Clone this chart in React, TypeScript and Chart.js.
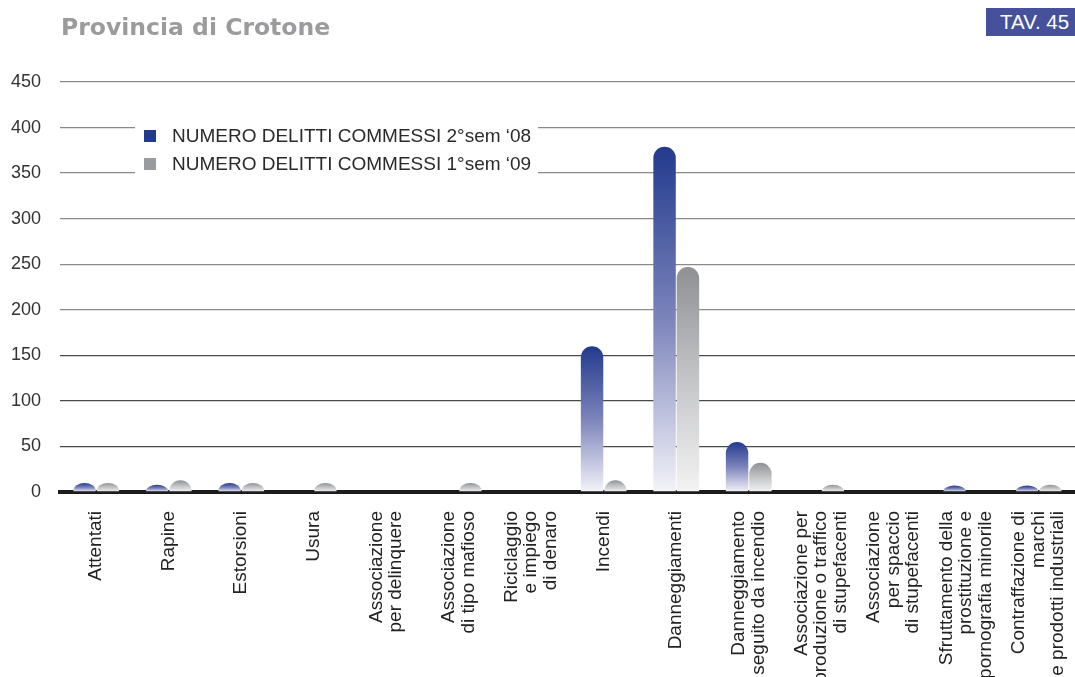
import React, { useEffect, useRef } from 'react';
import { Chart, registerables } from 'chart.js';

Chart.register(...registerables);

const categories: string[][] = [
  ['Attentati'],
  ['Rapine'],
  ['Estorsioni'],
  ['Usura'],
  ['Associazione', 'per delinquere'],
  ['Associazione', 'di tipo mafioso'],
  ['Riciclaggio', 'e impiego', 'di denaro'],
  ['Incendi'],
  ['Danneggiamenti'],
  ['Danneggiamento', 'seguito da incendio'],
  ['Associazione per', 'produzione o traffico', 'di stupefacenti'],
  ['Associazione', 'per spaccio', 'di stupefacenti'],
  ['Sfruttamento della', 'prostituzione e', 'pornografia minorile'],
  ['Contraffazione di', 'marchi', 'e prodotti industriali'],
];

const seriesLabels = ['NUMERO DELITTI COMMESSI 2°sem ‘08', 'NUMERO DELITTI COMMESSI 1°sem ‘09'];
const delitti2sem08 = [10, 8, 10, 0, 0, 0, 0, 160, 379, 55, 0, 0, 7, 7];
const delitti1sem09 = [10, 13, 10, 10, 0, 10, 0, 13, 247, 32, 8, 0, 0, 8];

const yMin = 0;
const yMax = 450;
const yStep = 50;

const FONT = '"Liberation Sans", Arial, Helvetica, sans-serif';

const BLUE = ['#223a8d', '#7c84bb', '#f3f3f9'];
const GRAY = ['#8e9094', '#c4c5c7', '#f3f3f3'];

function gradientFill(stops: string[]) {
  return (ctx: any) => {
    const chart = ctx.chart;
    if (!chart.chartArea || ctx.type !== 'data') return stops[0];
    const ys = chart.scales.y;
    const v = ctx.raw as number;
    const top = ys.getPixelForValue(v);
    const base = ys.getPixelForValue(0);
    if (!(base - top > 0.5)) return stops[0];
    const g = chart.ctx.createLinearGradient(0, top, 0, base);
    g.addColorStop(0, stops[0]);
    g.addColorStop(0.5, stops[1]);
    g.addColorStop(1, stops[2]);
    return g;
  };
}

// Draws each bar element (positions from Chart.js) with a rounded dome top.
const domeBarPlugin = {
  id: 'domeBars',
  beforeDatasetDraw(chart: any, args: any) {
    const c = chart.ctx;
    const area = chart.chartArea;
    c.save();
    c.beginPath();
    c.rect(area.left, area.top - 20, area.right - area.left, area.bottom - area.top + 20);
    c.clip();
    args.meta.data.forEach((el: any) => {
      const { x, y, base, width } = el.getProps(['x', 'y', 'base', 'width'], true);
      const h = base - y;
      if (!(h > 0.3)) return;
      const r = width / 2;
      const ry = Math.min(r, h);
      c.fillStyle = el.options.backgroundColor;
      c.beginPath();
      c.moveTo(x - r, base);
      c.lineTo(x - r, y + ry);
      c.ellipse(x, y + ry, r, ry, 0, Math.PI, 2 * Math.PI);
      c.lineTo(x + r, base);
      c.closePath();
      c.fill();
    });
    c.restore();
    return false;
  },
};

const legendPlugin = {
  id: 'boxLegend',
  beforeDatasetsDraw(chart: any) {
    const c = chart.ctx;
    c.save();
    c.fillStyle = '#ffffff';
    c.fillRect(135, 117, 403, 64);
    const colors = [BLUE[0], '#9a9b9e'];
    const rows = [136, 164];
    c.font = `19px ${FONT}`;
    c.textBaseline = 'middle';
    c.textAlign = 'left';
    chart.data.datasets.forEach((ds: any, i: number) => {
      c.fillStyle = colors[i];
      c.fillRect(144, rows[i] - 6, 12, 12);
      c.fillStyle = '#2a2a2a';
      c.fillText(ds.label, 172, rows[i] + 1);
    });
    c.restore();
  },
};

const xLabelPlugin = {
  id: 'xLabels',
  afterDraw(chart: any) {
    const c = chart.ctx;
    const xs = chart.scales.x;
    const lh = 19.5;
    const yTop = 511;
    c.save();
    c.font = `19px ${FONT}`;
    c.fillStyle = '#222222';
    c.textAlign = 'right';
    c.textBaseline = 'middle';
    categories.forEach((lines, i) => {
      const cx = xs.getPixelForValue(i);
      const n = lines.length;
      lines.forEach((line, k) => {
        const x = cx + (k - (n - 1) / 2) * lh;
        c.save();
        c.translate(x, yTop);
        c.rotate(-Math.PI / 2);
        c.fillText(line, 0, 0);
        c.restore();
      });
    });
    c.restore();
  },
};

export default function App() {
  const ref = useRef<HTMLCanvasElement | null>(null);

  useEffect(() => {
    if (!ref.current) return;
    Chart.defaults.font.family = FONT;
    const chart = new Chart(ref.current, {
      type: 'bar',
      data: {
        labels: categories.map((l) => l.join(' ')),
        datasets: [
          {
            label: seriesLabels[0],
            data: delitti2sem08,
            backgroundColor: gradientFill(BLUE),
            borderWidth: 0,
            barPercentage: 0.96,
            categoryPercentage: 0.645,
          },
          {
            label: seriesLabels[1],
            data: delitti1sem09,
            backgroundColor: gradientFill(GRAY),
            borderWidth: 0,
            barPercentage: 0.96,
            categoryPercentage: 0.645,
          },
        ],
      },
      options: {
        responsive: false,
        animation: false,
        devicePixelRatio: 1,
        layout: { padding: { top: 82, left: 0, right: 0, bottom: 0 } },
        plugins: {
          legend: { display: false },
          tooltip: { enabled: false },
          title: { display: false },
        },
        scales: {
          x: {
            z: 1,
            grid: { display: false, drawTicks: false },
            border: { display: true, width: 4, color: '#1c1c1c' },
            ticks: { display: false },
            afterFit: (s: any) => {
              s.height = 185;
            },
          },
          y: {
            min: yMin,
            max: yMax,
            border: { display: false },
            grid: {
              drawTicks: false,
              lineWidth: 1.3,
              color: (ctx: any) => (ctx.tick && ctx.tick.value >= 200 ? '#8a8a8a' : '#4a4a4a'),
            },
            ticks: {
              stepSize: yStep,
              padding: 19,
              color: '#333333',
              font: { size: 18, family: FONT },
            },
            afterFit: (s: any) => {
              s.width = 60;
            },
          },
        },
      },
      plugins: [domeBarPlugin, legendPlugin, xLabelPlugin],
    });
    return () => chart.destroy();
  }, []);

  return (
    <div style={{ position: 'absolute', left: 0, top: 0, width: 1075, height: 677, overflow: 'hidden', background: '#fff' }}>
      <canvas ref={ref} width={1075} height={677} style={{ display: 'block', width: 1075, height: 677 }} />
      <div
        style={{
          position: 'absolute',
          left: 61,
          top: 16,
          font: 'bold 23.5px "DejaVu Sans", sans-serif',
          lineHeight: '23.5px',
          color: '#9b9b9d',
          whiteSpace: 'nowrap',
        }}
      >
        Provincia di Crotone
      </div>
      <div
        style={{
          position: 'absolute',
          left: 986,
          top: 8,
          width: 89,
          height: 28,
          boxSizing: 'border-box',
          paddingLeft: 14,
          background: '#45519b',
          color: '#ffffff',
          font: `20.5px ${FONT}`,
          lineHeight: '28px',
          whiteSpace: 'nowrap',
        }}
      >
        TAV. 45
      </div>
    </div>
  );
}
